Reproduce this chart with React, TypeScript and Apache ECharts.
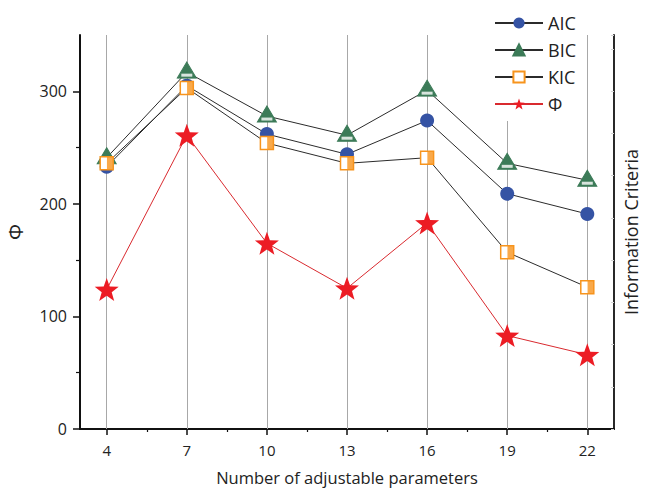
import React, { useEffect, useRef } from "react";
import * as echarts from "echarts";

const xValues = [4, 7, 10, 13, 16, 19, 22];
const minorX = [5.5, 8.5, 11.5, 14.5, 17.5, 20.5];
const aic = [233, 305, 262, 244, 274, 209, 191];
const bic = [241, 317, 278, 261, 301, 236, 221];
const kic = [236, 303, 254, 236, 241, 157, 126];
const phi = [124, 261, 165, 125, 183, 83, 66];
const yMajor = [0, 100, 200, 300];
const yMinor = [50, 150, 250];
const seriesNames = ["AIC", "BIC", "KIC", "Φ"];

const STAR =
  "path://M50,0 L62,34 L98,35 L70,57 L80,92 L50,71 L20,92 L30,57 L2,35 L38,34 Z";

const FONT = "'Open Sans', sans-serif";

export default function App() {
  const ref = useRef<HTMLDivElement>(null);
  useEffect(() => {
    if (!ref.current) return;
    const chart = echarts.init(ref.current, null, { renderer: "svg" });
    const pts = (arr: number[]) => xValues.map((x, i) => [x, arr[i]]);
    const lineStyle = { color: "#2b2b2b", width: 1 };
    chart.setOption({
      animation: false,
      textStyle: { fontFamily: FONT },
      grid: { left: 80, right: 31, top: 35, bottom: 65, containLabel: false, outerBoundsMode: "none" },
      legend: {
        data: seriesNames,
        orient: "vertical",
        left: 492,
        top: 9,
        itemWidth: 48,
        itemHeight: 14,
        itemGap: 9,
        padding: [5, 6, 8, 2],
        backgroundColor: "#ffffff",
        textStyle: { fontSize: 18, lineHeight: 16, color: "#222", fontFamily: FONT },
      },
      xAxis: [
        {
          type: "value",
          min: 3,
          max: 23,
          name: "Number of adjustable parameters",
          nameLocation: "middle",
          nameGap: 40,
          nameTextStyle: { fontSize: 16.5, color: "#222" },
          axisLine: { show: true, lineStyle: { color: "#111", width: 2 } },
          axisTick: { show: true, customValues: xValues, length: 6, lineStyle: { color: "#111", width: 1.5 } },
          axisLabel: { customValues: xValues, margin: 13, fontSize: 15, color: "#222" },
          splitLine: { show: false },
        },
        {
          type: "value",
          min: 3,
          max: 23,
          position: "bottom",
          axisLine: { show: false },
          axisTick: { show: true, customValues: minorX, length: 3, lineStyle: { color: "#111", width: 1.2 } },
          axisLabel: { show: false },
          splitLine: { show: false },
        },
      ],
      yAxis: [
        {
          type: "value",
          min: 0,
          max: 350,
          name: "Φ",
          nameLocation: "middle",
          nameGap: 55,
          nameTextStyle: { fontSize: 20, color: "#222" },
          axisLine: { show: true, lineStyle: { color: "#111", width: 2 } },
          axisTick: { show: true, customValues: yMajor, length: 7, lineStyle: { color: "#111", width: 1.5 } },
          axisLabel: { customValues: yMajor, margin: 13, fontSize: 16, color: "#222" },
          splitLine: { show: false },
        },
        {
          type: "value",
          min: 0,
          max: 350,
          position: "right",
          name: "Information Criteria",
          nameLocation: "middle",
          nameGap: 8,
          nameTextStyle: { fontSize: 18, color: "#222" },
          axisLine: { show: true, lineStyle: { color: "#111", width: 1.8 } },
          axisTick: { show: true, inside: true, length: 3, lineStyle: { color: "#d4d4d4", width: 1 } },
          axisLabel: { show: false },
          splitLine: { show: false },
          interval: 37.5,
        },
        {
          type: "value",
          min: 0,
          max: 350,
          position: "left",
          axisLine: { show: false },
          axisTick: { show: true, customValues: yMinor, length: 4, lineStyle: { color: "#111", width: 1.2 } },
          axisLabel: { show: false },
          splitLine: { show: false },
        },
      ],
      series: [
        {
          name: "grid-lines",
          type: "line",
          data: [],
          silent: true,
          z: 1,
          markLine: {
            z: 1,
            silent: true,
            symbol: ["none", "none"],
            label: { show: false },
            lineStyle: { color: "#a8a8a8", width: 1, type: "solid" },
            data: xValues.map((x) => ({ xAxis: x })),
          },
        },
        {
          name: "AIC",
          type: "line",
          z: 3,
          data: pts(aic),
          symbol: "circle",
          symbolSize: 14,
          lineStyle,
          itemStyle: { color: "#3553a4" },
        },
        {
          name: "BIC",
          type: "line",
          z: 4,
          data: pts(bic),
          symbol: "triangle",
          symbolSize: [19, 16],
          symbolOffset: [0, -2],
          lineStyle,
          itemStyle: { color: "#3c7b58", borderColor: "#3c7b58", borderWidth: 1 },
        },
        {
          name: "BIC-band",
          type: "scatter",
          z: 5,
          data: pts(bic),
          symbol: "rect",
          symbolSize: [11, 3],
          symbolOffset: [0, 3],
          silent: true,
          itemStyle: { color: "#ffffff" },
        },
        {
          name: "KIC",
          type: "line",
          z: 6,
          data: pts(kic),
          symbol: "rect",
          symbolSize: 13,
          lineStyle,
          itemStyle: { color: "#ffffff", borderColor: "#f7941d", borderWidth: 1.5 },
        },
        {
          name: "KIC-fill",
          type: "scatter",
          z: 7,
          data: pts(kic),
          symbol: "rect",
          symbolSize: [6, 13],
          symbolOffset: [3.25, 0],
          silent: true,
          itemStyle: { color: "#f7941d" },
        },
        {
          name: "Φ",
          type: "line",
          z: 8,
          data: pts(phi),
          symbol: STAR,
          symbolSize: 24,
          symbolKeepAspect: true,
          lineStyle: { color: "#d92a2f", width: 1 },
          itemStyle: { color: "#ec1c24" },
        },
      ],
    });
    return () => chart.dispose();
  }, []);
  return (
    <div
      ref={ref}
      style={{ position: "fixed", left: 0, top: 0, width: 645, height: 494, background: "#fff" }}
    />
  );
}
